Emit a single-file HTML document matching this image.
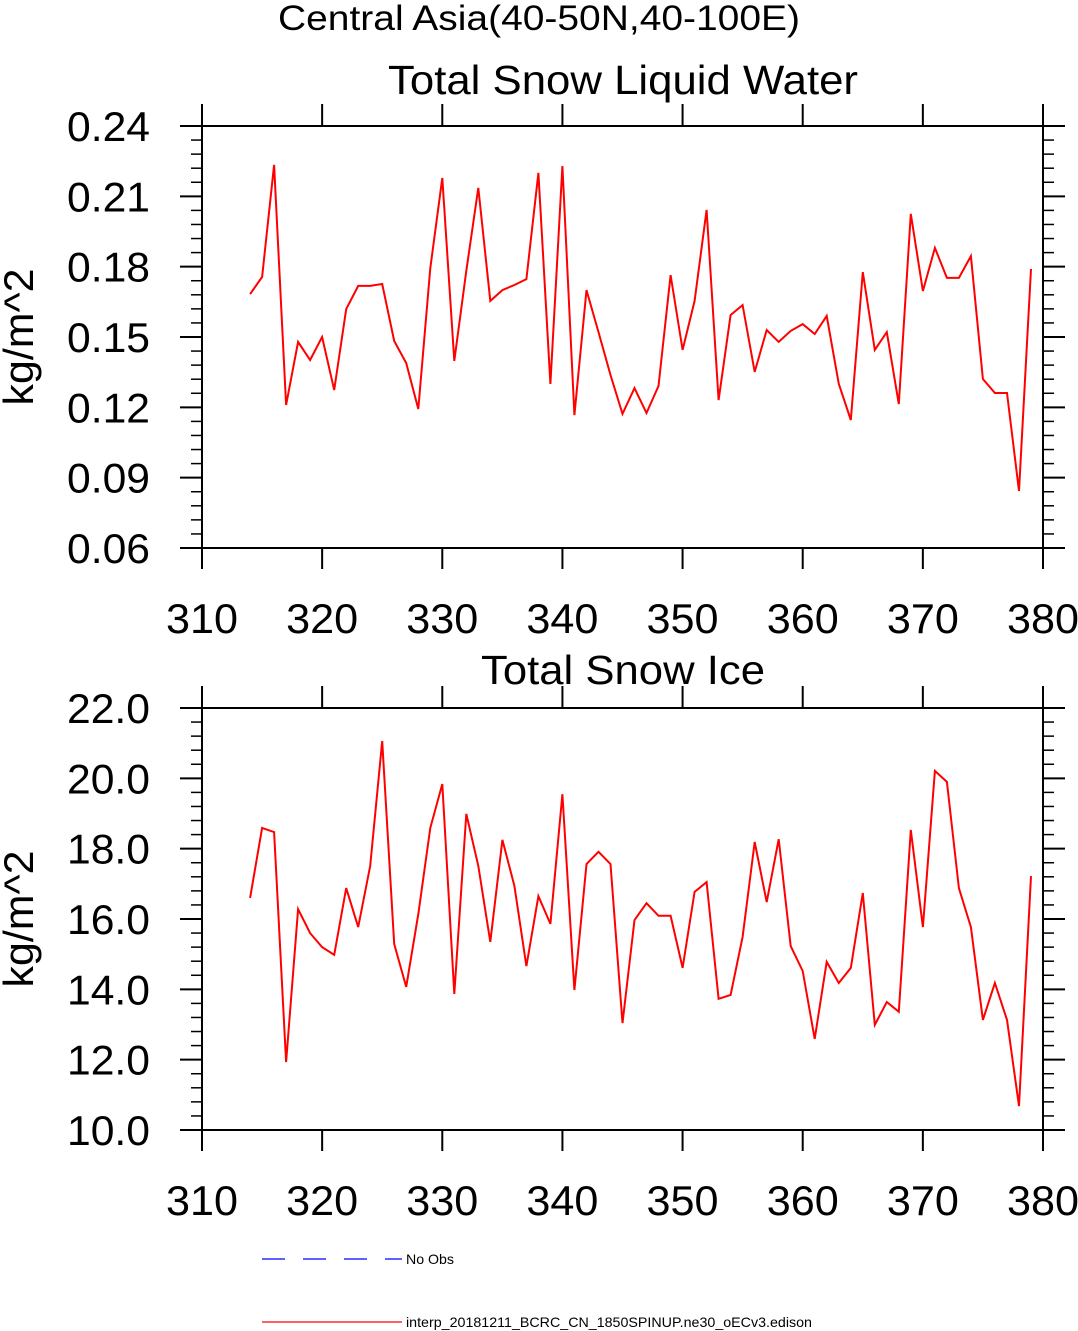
<!DOCTYPE html>
<html><head><meta charset="utf-8"><style>body{margin:0;background:#fff}svg{display:block}</style></head>
<body>
<svg id="chart" width="1078" height="1331" xmlns="http://www.w3.org/2000/svg" font-family="Liberation Sans, Arial, sans-serif">
<text x="539" y="30" text-anchor="middle" font-size="35" textLength="522" lengthAdjust="spacingAndGlyphs">Central Asia(40-50N,40-100E)</text>
<text x="623" y="94" text-anchor="middle" font-size="41" textLength="470" lengthAdjust="spacingAndGlyphs">Total Snow Liquid Water</text>
<text x="623" y="684" text-anchor="middle" font-size="41" textLength="284" lengthAdjust="spacingAndGlyphs">Total Snow Ice</text>
<g id="p1"></g>
<g id="p2"></g>
<g>
<line x1="262" y1="1259" x2="402" y2="1259" stroke="#0000ff" stroke-width="1.2" stroke-dasharray="23,18"/>
<text x="406" y="1264" font-size="14" textLength="48" lengthAdjust="spacingAndGlyphs">No Obs</text>
<line x1="262" y1="1322" x2="402" y2="1322" stroke="#ff0000" stroke-width="1.2"/>
<text x="406" y="1327" font-size="14" textLength="406" lengthAdjust="spacingAndGlyphs">interp_20181211_BCRC_CN_1850SPINUP.ne30_oECv3.edison</text>
</g>
</svg>
<script>
const years = [];
for (let i = 314; i <= 379; i++) years.push(i);
const liquidWater = [.1683,.1756,.2234,.1210,.1479,.1402,.1500,.1274,.1619,.1718,.1718,.1726,.1483,.1389,.1193,.1794,.2178,.1398,.1782,.2136,.1654,.1700,.1722,.1747,.2200,.1300,.2229,.1167,.1700,.1521,.1338,.1172,.1282,.1176,.1291,.1764,.1445,.1654,.2042,.1231,.1594,.1636,.1351,.1530,.1479,.1526,.1555,.1513,.1590,.1300,.1146,.1777,.1445,.1521,.1214,.2025,.1696,.1880,.1752,.1752,.1845,.1321,.1261,.1261,.0843,.1790];
const snowIce = [16.60,18.59,18.47,11.93,16.28,15.60,15.20,14.98,16.88,15.77,17.51,21.06,15.29,14.07,16.14,18.59,19.84,13.87,18.99,17.51,15.35,18.25,16.94,14.66,16.65,15.86,19.55,13.98,17.56,17.91,17.56,13.04,15.97,16.45,16.09,16.09,14.61,16.77,17.05,13.73,13.84,15.49,18.19,16.48,18.27,15.23,14.52,12.59,14.78,14.18,14.61,16.74,12.99,13.64,13.36,18.53,15.77,20.21,19.90,16.88,15.77,13.13,14.18,13.13,10.68,17.22];
const xTicks = [310,320,330,340,350,360,370,380];
const yTicks1 = ["0.06","0.09","0.12","0.15","0.18","0.21","0.24"];
const yTicks2 = ["10.0","12.0","14.0","16.0","18.0","20.0","22.0"];
const NS = "http://www.w3.org/2000/svg";
const X0 = 202, X1 = 1043;
function mk(parent, tag, attrs) { const e = document.createElementNS(NS, tag); for (const k in attrs) e.setAttribute(k, attrs[k]); parent.appendChild(e); return e; }
function panel(g, top, bot, ymin, ymax, ticks, data, key) {
  const xs = v => X0 + (v - 310) / 70 * (X1 - X0);
  const ys = v => bot - (v - ymin) / (ymax - ymin) * (bot - top);
  const frame = mk(g, 'rect', {x: X0, y: top, width: X1 - X0, height: bot - top, fill: 'none', stroke: '#000', 'stroke-width': 2});
  
  
  xTicks.forEach(t => {
    const x = xs(t);
    const a = mk(g, 'line', {x1: x, y1: bot, x2: x, y2: bot + 21, stroke: '#000', 'stroke-width': 2});
    
    
    const b = mk(g, 'line', {x1: x, y1: top, x2: x, y2: top - 22, stroke: '#000', 'stroke-width': 2});
    
    
    const tx = mk(g, 'text', {x: x, y: bot + 85, 'text-anchor': 'middle', 'font-size': 42, textLength: 72, lengthAdjust: 'spacingAndGlyphs'});
    tx.textContent = t;
    
    
  });
  const step = (ymax - ymin) / 6;
  for (let i = 0; i <= 30; i++) {
    const v = ymin + i * step / 5; const y = ys(v); const major = i % 5 === 0;
    const l = mk(g, 'line', {x1: X0 - (major ? 22 : 11), y1: y, x2: X0, y2: y, stroke: '#000', 'stroke-width': major ? 2 : 1.5});
    
    
    const r = mk(g, 'line', {x1: X1, y1: y, x2: X1 + (major ? 22 : 11), y2: y, stroke: '#000', 'stroke-width': major ? 2 : 1.5});
    
    
  }
  ticks.forEach((t, i) => {
    const tx = mk(g, 'text', {x: 150, y: ys(ymin + i * step) + 15, 'text-anchor': 'end', 'font-size': 42, textLength: 83, lengthAdjust: 'spacingAndGlyphs'});
    tx.textContent = t;
    
    
  });
  const yt = mk(g, 'text', {x: 0, y: 0, 'text-anchor': 'middle', 'font-size': 42, textLength: 137, lengthAdjust: 'spacingAndGlyphs', transform: 'translate(33,' + ((top + bot) / 2) + ') rotate(-90)'});
  yt.textContent = 'kg/m^2';
  
  
  const pts = data.map((v, i) => xs(years[i]).toFixed(1) + ',' + ys(v).toFixed(1)).join(' ');
  const pl = mk(g, 'polyline', {points: pts, fill: 'none', stroke: '#ff0000', 'stroke-width': 2, 'stroke-linejoin': 'miter'});
  
  
}
panel(document.getElementById('p1'), 126, 548, 0.06, 0.24, yTicks1, liquidWater, 'liquid-water');
panel(document.getElementById('p2'), 708, 1130, 10, 22, yTicks2, snowIce, 'snow-ice');
</script>
</body></html>
